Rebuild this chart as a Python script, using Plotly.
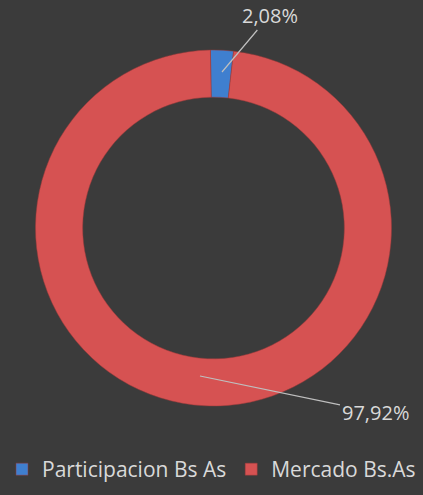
import plotly.graph_objects as go

labels = ["Participacion Bs As", "Mercado Bs.As"]
values = [2.08, 97.92]
text_labels = ["2,08%", "97,92%"]
colors = ["#3f7fcf", "#d65252"]

fig = go.Figure()
fig.add_trace(go.Pie(
    labels=labels, values=values, hole=0.735, sort=False,
    direction="clockwise", rotation=-1,
    marker=dict(colors=colors, line=dict(color="#9a3a3a", width=0.5)),
    textinfo="none", hoverinfo="label+percent",
    domain=dict(x=[35/423, 392/423], y=[1-406/495, 1-50/495]),
))

# etiquetas con línea guía
fig.add_annotation(x=222/423, y=1-72/495, xref="paper", yref="paper",
                   text=text_labels[0], showarrow=True, arrowhead=0,
                   arrowcolor="#bfbfbf", arrowwidth=1.2, ax=48, ay=-57,
                   font=dict(size=20, color="#d9d9d9"))
fig.add_annotation(x=200/423, y=1-376/495, xref="paper", yref="paper",
                   text=text_labels[1], showarrow=True, arrowhead=0,
                   arrowcolor="#bfbfbf", arrowwidth=1.2, ax=175, ay=36,
                   font=dict(size=20, color="#d9d9d9"))

fig.update_layout(
    width=423, height=495,
    margin=dict(l=0, r=0, t=0, b=0),
    paper_bgcolor="#3b3b3b", plot_bgcolor="#3b3b3b",
    font=dict(family="Open Sans", color="#d9d9d9"),
    showlegend=True,
    legend=dict(orientation="h", x=0.5, xanchor="center", y=0.01, yanchor="bottom",
                font=dict(size=21, color="#d9d9d9"), itemwidth=30,
                bgcolor="rgba(0,0,0,0)"),
)

fig.write_html("out.html", config={"displayModeBar": False},
               post_script="document.body.style.margin='0';")
